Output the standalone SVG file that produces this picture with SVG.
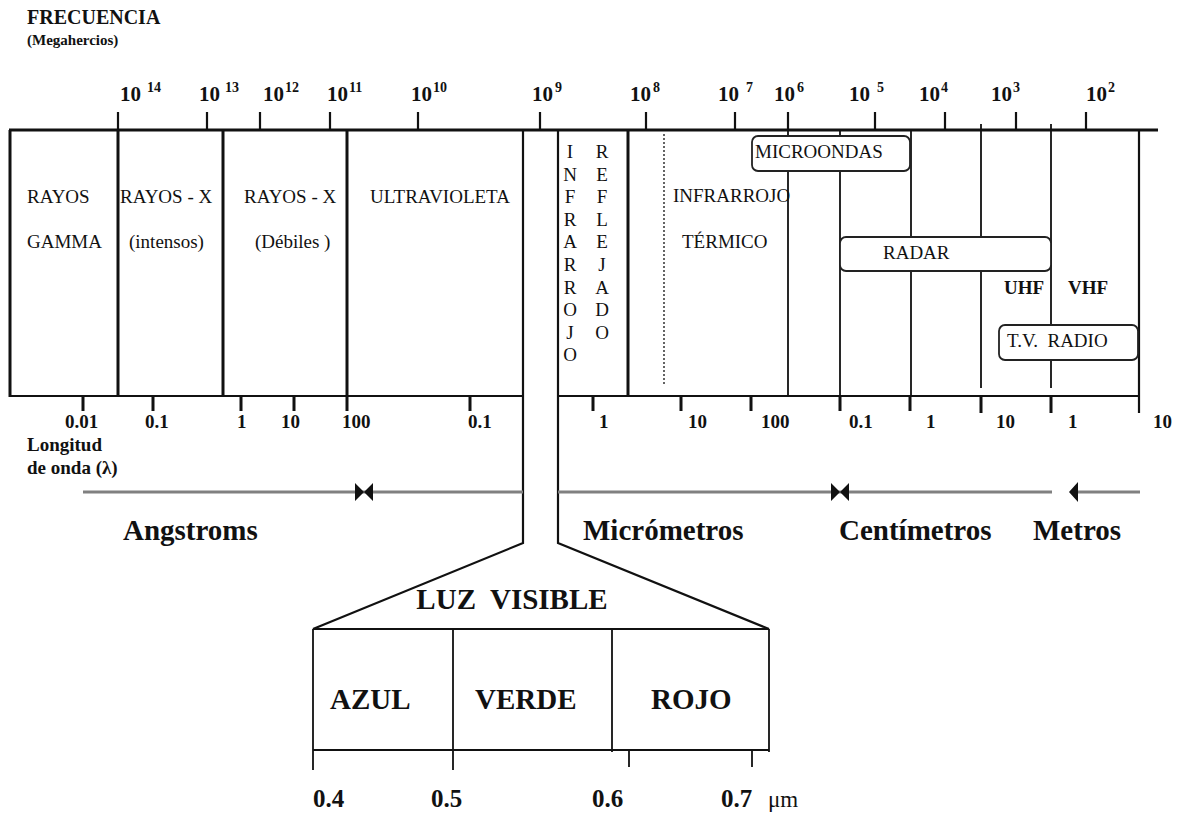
<svg xmlns="http://www.w3.org/2000/svg" width="1184" height="820" viewBox="0 0 1184 820">
<style>
text{font-family:"Liberation Serif","Times New Roman",serif;fill:#111;white-space:pre}
.n{font-size:19px}
.b{font-weight:bold}
.hd{font-size:20px;font-weight:bold}
.sub{font-size:15px;font-weight:bold}
.ex{font-size:21px;font-weight:bold}
.sp{font-size:14px;font-weight:bold}
.wl{font-size:19px;font-weight:bold}
.unit{font-size:29px;font-weight:bold}
.big{font-size:29px;font-weight:bold}
.num{font-size:25px;font-weight:bold}
.mu{font-size:23px;font-weight:normal}
.thk{stroke:#111;stroke-width:3;fill:none}
.med{stroke:#111;stroke-width:2.2;fill:none}
.thn{stroke:#111;stroke-width:1.8;fill:none}
.box{stroke:#222;stroke-width:1.8;fill:#fff}
.gl{stroke:#808080;stroke-width:3;fill:none}
</style>
<rect width="1184" height="820" fill="#fff"/>

<g id="header">
<text class="hd" x="27" y="24">FRECUENCIA</text>
<text class="sub" x="27" y="45">(Megahercios)</text>
</g>

<g id="freq-labels">
<text class="ex" x="120" y="101">10</text><text class="sp" x="147" y="92">14</text>
<text class="ex" x="199" y="101">10</text><text class="sp" x="225" y="92">13</text>
<text class="ex" x="263" y="101">10</text><text class="sp" x="285" y="92">12</text>
<text class="ex" x="327" y="101">10</text><text class="sp" x="349" y="92">11</text>
<text class="ex" x="411" y="101">10</text><text class="sp" x="433" y="92">10</text>
<text class="ex" x="532" y="101">10</text><text class="sp" x="555" y="92">9</text>
<text class="ex" x="630" y="101">10</text><text class="sp" x="653" y="92">8</text>
<text class="ex" x="718" y="101">10</text><text class="sp" x="746" y="92">7</text>
<text class="ex" x="774" y="101">10</text><text class="sp" x="797" y="92">6</text>
<text class="ex" x="849" y="101">10</text><text class="sp" x="877" y="92">5</text>
<text class="ex" x="919" y="101">10</text><text class="sp" x="941" y="92">4</text>
<text class="ex" x="991" y="101">10</text><text class="sp" x="1013" y="92">3</text>
<text class="ex" x="1086" y="101">10</text><text class="sp" x="1108" y="92">2</text>
</g>

<g id="connectors">
<line class="thk" x1="9" y1="130" x2="1158" y2="130"/>
<path class="med" d="M118 112V130 M207 112V130 M260 112V130 M330 112V130 M418 112V130 M540 112V130 M646 112V130 M735 112V130 M788 112V130 M875 112V130 M945 112V130 M1016 112V130 M1086 112V130"/>
<line class="thk" x1="10" y1="130" x2="10" y2="397"/>
<path class="med" d="M10 396H523 M558 396H1140"/>
<path class="thk" d="M118 130V396 M223 130V396 M347 130V411 M628 130V396"/>
<path class="med" d="M523 130V543 L313 629 M558 130V543 L769 629"/>
<path class="thn" d="M788 130V396 M840 130V396 M911 130V396 M981 124V388 M1051 124V388"/>
<line class="med" x1="1139" y1="130" x2="1139" y2="413"/>
<line stroke="#111" stroke-width="1.3" stroke-dasharray="2,2" x1="664" y1="134" x2="664" y2="386"/>
<path class="thk" d="M83 396V411 M153 396V411 M241 396V411 M294 396V411 M470 396V411 M593 396V411 M681 396V411 M751 396V411 M840 396V411 M910 396V411 M981 396V413 M1051 396V413"/>
<path class="gl" d="M83 492H523 M558 492H1052 M1078 492H1140"/>
<path fill="#111" d="M355 483L364 492L355 501Z M373 483L364 492L373 501Z M831 483L840 492L831 501Z M849 483L840 492L849 501Z M1069 492L1078 482L1078 502Z"/>
<line class="med" x1="313" y1="629" x2="769" y2="629"/>
<path class="thn" d="M313 629V770 M453 629V770 M612 629V752 M769 629V752 M313 750H769 M629 750V767 M752 750V767"/>
</g>

<g id="box-microondas"><rect class="box" x="752" y="136" width="158" height="35" rx="6"/><text class="n" x="755" y="158">MICROONDAS</text></g>
<g id="box-radar"><rect class="box" x="840" y="237" width="211" height="34" rx="6"/><text class="n" x="883" y="259">RADAR</text></g>
<g id="box-tvradio"><rect class="box" x="999" y="325" width="139" height="35" rx="6"/><text class="n" x="1007" y="347" xml:space="preserve">T.V.  RADIO</text></g>

<g id="gamma"><text class="n" x="27" y="203">RAYOS</text><text class="n" x="27" y="248">GAMMA</text></g>
<g id="xray-hard"><text class="n" x="120" y="203">RAYOS - X</text><text class="n" x="129" y="248">(intensos)</text></g>
<g id="xray-soft"><text class="n" x="244" y="203">RAYOS - X</text><text class="n" x="255" y="248">(Débiles )</text></g>
<g id="uv"><text class="n" x="370" y="203">ULTRAVIOLETA</text></g>
<g id="ir-reflejado" text-anchor="middle">
<text class="n" x="570" y="158">I</text><text class="n" x="570" y="180.6">N</text><text class="n" x="570" y="203.2">F</text><text class="n" x="570" y="225.8">R</text><text class="n" x="570" y="248.4">A</text><text class="n" x="570" y="271">R</text><text class="n" x="570" y="293.6">R</text><text class="n" x="570" y="316.2">O</text><text class="n" x="570" y="338.8">J</text><text class="n" x="570" y="361.4">O</text>
<text class="n" x="602" y="158">R</text><text class="n" x="602" y="180.6">E</text><text class="n" x="602" y="203.2">F</text><text class="n" x="602" y="225.8">L</text><text class="n" x="602" y="248.4">E</text><text class="n" x="602" y="271">J</text><text class="n" x="602" y="293.6">A</text><text class="n" x="602" y="316.2">D</text><text class="n" x="602" y="338.8">O</text>
</g>
<g id="ir-termico"><text class="n" x="673" y="202">INFRARROJO</text><text class="n" x="682" y="248">TÉRMICO</text></g>
<g id="uhf-vhf"><text class="n b" x="1004" y="294">UHF</text><text class="n b" x="1068" y="294">VHF</text></g>

<g id="wavelength-labels">
<text class="wl" x="65" y="428">0.01</text>
<text class="wl" x="145" y="428">0.1</text>
<text class="wl" x="237" y="428">1</text>
<text class="wl" x="281" y="428">10</text>
<text class="wl" x="342" y="428">100</text>
<text class="wl" x="468" y="428">0.1</text>
<text class="wl" x="599" y="428">1</text>
<text class="wl" x="688" y="428">10</text>
<text class="wl" x="761" y="428">100</text>
<text class="wl" x="849" y="428">0.1</text>
<text class="wl" x="926" y="428">1</text>
<text class="wl" x="996" y="428">10</text>
<text class="wl" x="1068" y="428">1</text>
<text class="wl" x="1153" y="428">10</text>
<text class="wl" x="27" y="451">Longitud</text>
<text class="wl" x="27" y="474">de onda (λ)</text>
</g>

<g id="units">
<text class="unit" x="123" y="540">Angstroms</text>
<text class="unit" x="583" y="540">Micrómetros</text>
<text class="unit" x="839" y="540">Centímetros</text>
<text class="unit" x="1033" y="540">Metros</text>
</g>

<g id="luz-visible">
<text class="big" x="512" y="609" text-anchor="middle" xml:space="preserve">LUZ  VISIBLE</text>
<text class="big" x="330" y="709">AZUL</text>
<text class="big" x="475" y="709">VERDE</text>
<text class="big" x="651" y="709">ROJO</text>
<text class="num" x="313" y="807">0.4</text>
<text class="num" x="431" y="807">0.5</text>
<text class="num" x="592" y="807">0.6</text>
<text class="num" x="721" y="807">0.7</text>
<text class="mu" x="768" y="807">μm</text>
</g>
</svg>
